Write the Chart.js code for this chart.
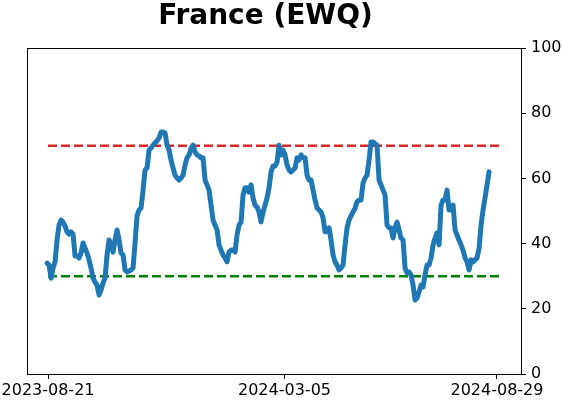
<!DOCTYPE html>
<html>
<head>
<meta charset="utf-8">
<script src="https://cdn.jsdelivr.net/npm/chart.js@4/dist/chart.umd.min.js"></script>
<style>
  html, body { margin: 0; padding: 0; background: #ffffff; }
  #wrap { width: 562px; height: 402px; }
</style>
</head>
<body>
<div id="wrap"><canvas id="c" width="562" height="402"></canvas></div>
<script>
const chartTitle = "France (EWQ)";
// tick labels on the date axis and their day offsets from 2023-08-21
const tickLabels = ["2023-08-21", "2024-03-05", "2024-08-29"];
const tickDays = [0, 197, 374];
// series sampled at a regular step (days from 2023-08-21)
const firstDay = -0.8;
const stepDays = 1.666;
const values = [
  34.0, 33.4, 29.4, 32.5, 34.4, 41.1, 45.7, 47.2, 46.6, 45.4,
  43.6, 42.9, 43.6, 42.9, 36.2, 36.2, 35.6, 37.1, 40.2, 38.7,
  37.1, 35.0, 32.5, 29.4, 28.2, 27.3, 24.2, 25.8, 27.9, 29.4,
  36.5, 41.1, 39.6, 37.4, 41.1, 44.2, 41.1, 37.1, 36.5, 31.9,
  31.3, 31.6, 31.9, 32.5, 40.2, 48.5, 50.3, 50.9, 56.4, 62.6,
  63.2, 68.7, 69.3, 70.2, 70.9, 71.5, 72.4, 74.2, 74.2, 73.9,
  70.2, 68.7, 65.6, 63.2, 61.0, 60.1, 59.5, 60.1, 61.0, 64.1,
  66.3, 67.2, 69.3, 70.2, 68.1, 67.2, 66.9, 66.3, 66.3, 59.5,
  58.0, 56.4, 51.8, 47.2, 45.7, 44.2, 39.6, 38.0, 36.5, 35.6,
  34.4, 37.4, 38.0, 38.0, 37.4, 42.6, 45.7, 46.6, 54.9, 57.1,
  57.1, 55.8, 58.0, 54.0, 51.8, 51.2, 49.7, 46.6, 49.7, 51.8,
  54.0, 57.1, 62.0, 63.8, 63.8, 65.0, 70.2, 67.2, 68.7, 67.2,
  64.1, 62.6, 62.0, 62.6, 63.2, 66.3, 65.6, 67.2, 66.3, 66.3,
  61.0, 59.5, 59.5, 56.4, 53.4, 50.9, 50.3, 49.7, 47.9, 43.6,
  43.6, 44.8, 41.1, 36.5, 34.4, 33.4, 31.9, 32.5, 33.4, 39.6,
  44.8, 47.2, 48.5, 49.7, 50.9, 52.8, 53.4, 53.4, 58.6, 60.1,
  61.0, 65.6, 71.2, 71.2, 70.6, 70.2, 59.5, 58.0, 56.4, 54.9,
  45.7, 44.8, 44.8, 41.7, 44.8, 46.6, 44.2, 41.7, 41.1, 32.5,
  31.0, 31.3, 30.4, 27.3, 22.7, 23.3, 25.2, 27.3, 26.7, 30.4,
  33.4, 33.4, 35.6, 39.6, 41.7, 43.3, 39.6, 51.8, 53.4, 53.4,
  56.4, 50.3, 50.3, 51.8, 44.2, 42.6, 41.1, 39.6, 38.0, 35.6,
  34.4, 31.9, 35.0, 34.4, 35.0, 35.6, 38.6, 45.7, 50.3, 54.0,
  58.0, 62.0
];
const upperLevel = 70;
const lowerLevel = 30;
const levelSpanDays = [0, 376];

const seriesPoints = values.map((v, i) => ({ x: firstDay + i * stepDays, y: v }));
const upperPoints = levelSpanDays.map(d => ({ x: d, y: upperLevel }));
const lowerPoints = levelSpanDays.map(d => ({ x: d, y: lowerLevel }));

const FONT = "'DejaVu Sans', sans-serif";

const framePlugin = {
  id: 'frame',
  afterDraw(chart) {
    const { ctx, chartArea: a } = chart;
    ctx.save();
    ctx.strokeStyle = '#000';
    ctx.lineWidth = 1;
    ctx.strokeRect(Math.round(a.left) + 0.5, Math.round(a.top) + 0.5,
                   Math.round(a.right - a.left), Math.round(a.bottom - a.top));
    ctx.restore();
  }
};

const titlePlugin = {
  id: 'mplTitle',
  afterDraw(chart) {
    const { ctx } = chart;
    ctx.save();
    ctx.fillStyle = '#000';
    ctx.font = "bold 28px " + FONT;
    ctx.textAlign = 'center';
    ctx.textBaseline = 'alphabetic';
    ctx.fillText(chartTitle, 265.5, 24);
    ctx.restore();
  }
};

new Chart(document.getElementById('c'), {
  type: 'line',
  data: {
    datasets: [
      { data: seriesPoints, borderColor: '#1f77b4', borderWidth: 5, pointRadius: 0,
        fill: false, tension: 0, borderJoinStyle: 'round', borderCapStyle: 'round', order: 1 },
      { data: upperPoints, borderColor: '#d62728', borderWidth: 2.5, borderDash: [9, 4],
        pointRadius: 0, fill: false, order: 2 },
      { data: lowerPoints, borderColor: '#008000', borderWidth: 2.5, borderDash: [9, 4],
        pointRadius: 0, fill: false, order: 2 }
    ]
  },
  options: {
    responsive: false,
    animation: false,
    events: [],
    layout: { padding: { left: 27, top: 48, right: 0, bottom: 0 } },
    plugins: { legend: { display: false }, tooltip: { enabled: false }, title: { display: false } },
    scales: {
      x: {
        type: 'linear',
        min: -17.5,
        max: 394,
        afterBuildTicks(scale) { scale.ticks = tickDays.map(v => ({ value: v })); },
        afterFit(scale) {
          scale.height = 28;
          scale.paddingLeft = 0;
          scale.paddingRight = 0;
        },
        ticks: {
          autoSkip: false, maxRotation: 0, color: '#000', padding: 2,
          font: { family: FONT, size: 16 },
          callback(v) { const k = tickDays.indexOf(v); return k >= 0 ? tickLabels[k] : ''; }
        },
        grid: { drawOnChartArea: false, drawTicks: true, tickLength: 5, color: '#000' },
        border: { display: true, color: '#000', width: 1 }
      },
      y: {
        position: 'right',
        min: 0,
        max: 100,
        afterFit(scale) {
          scale.width = 41;
          scale.paddingTop = 0;
          scale.paddingBottom = 0;
        },
        ticks: { stepSize: 20, color: '#000', padding: 5, font: { family: FONT, size: 16 } },
        grid: { drawOnChartArea: false, drawTicks: true, tickLength: 5, color: '#000' },
        border: { display: true, color: '#000', width: 1 }
      }
    }
  },
  plugins: [framePlugin, titlePlugin]
});
</script>
</body>
</html>
